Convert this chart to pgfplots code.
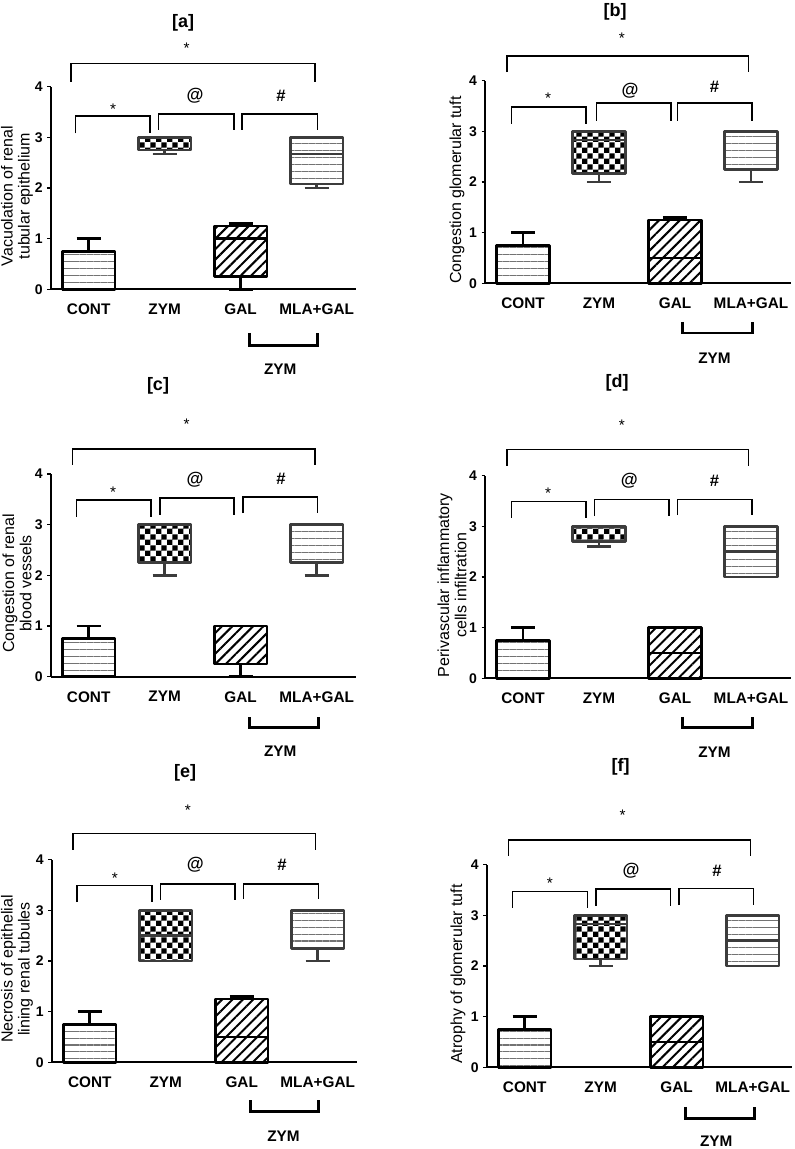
\documentclass[border=0pt]{standalone}
\usepackage{fontspec}
\setmainfont{Liberation Sans}
\usepackage{pgfplots}
\pgfplotsset{compat=1.18}
\usepgfplotslibrary{statistics}
\usetikzlibrary{patterns,patterns.meta}
\definecolor{dgray}{RGB}{60,60,60}
\definecolor{stripe}{RGB}{115,115,115}
\pgfdeclarepatternformonly{mycheck}{\pgfpointorigin}{\pgfqpoint{8.4pt}{8.4pt}}{\pgfqpoint{8.4pt}{8.4pt}}{%
  \pgfpathrectangle{\pgfpointorigin}{\pgfqpoint{4.2pt}{4.2pt}}%
  \pgfpathrectangle{\pgfqpoint{4.2pt}{4.2pt}}{\pgfqpoint{4.2pt}{4.2pt}}%
  \pgfusepath{fill}}
\pgfplotsset{
  panel/.style={
    anchor=south west,
    x=57pt, y=38pt, xmin=-0.5, xmax=3.52, ymin=0, ymax=4,
    axis lines*=left, axis line style={line width=1.3pt, black},
    clip=false,
    xtick={0,1,2,3}, xticklabels={CONT,ZYM,GAL,MLA+GAL},
    xtick style={draw=none},
    ytick={0,1,2,3,4}, ytick style={line width=1pt, black},
    tick align=outside, major tick length=2.5pt,
    xticklabel style={font=\fontsize{11.5}{12}\selectfont\bfseries, yshift=-5pt},
    yticklabel style={font=\fontsize{10.5}{12}\selectfont\bfseries},
    /pgf/number format/assume math mode=true,
    ylabel style={font=\fontsize{12}{12.8}\selectfont, align=center, anchor=center},
    boxplot/draw direction=y,
    boxplot/box extend=0.69, boxplot/whisker extend=0.32,
  },
  cont/.style={draw=black, line width=2pt, line join=round, pattern={Lines[angle=0,distance=5.2pt,line width=0.8pt]}, pattern color=stripe},
  zym/.style={draw=dgray, line width=2pt, line join=round, pattern=mycheck, pattern color=black},
  gal/.style={draw=black, line width=2pt, line join=round, pattern={Lines[angle=45,distance=5.5pt,line width=1.5pt]}, pattern color=black},
  mla/.style={draw=dgray, line width=2pt, line join=round, pattern={Lines[angle=0,distance=5.2pt,line width=0.8pt]}, pattern color=stripe},
  brk/.style={line width=1.1pt, black},
  zbrk/.style={line width=2.2pt, black},
}
\newcommand{\mkstar}{\fontsize{11.5}{12}\selectfont *}
\newcommand{\mkat}{\fontsize{13}{14}\selectfont\bfseries @}
\newcommand{\mkhash}{\fontsize{12.5}{13}\selectfont\bfseries \#}
\newcommand{\mkzym}{\fontsize{11.5}{12}\selectfont\bfseries ZYM}
\begin{document}
\begin{tikzpicture}
\useasboundingbox[fill=white] (0,0) rectangle (595.5pt,-861.75pt);
% titles
\node[font=\fontsize{13.5}{14}\selectfont\bfseries] at (137.3pt,-17.3pt) {[a]};
\node[font=\fontsize{13.5}{14}\selectfont\bfseries] at (461.3pt,-9pt) {[b]};
\node[font=\fontsize{13.5}{14}\selectfont\bfseries] at (118.5pt,-289.5pt) {[c]};
\node[font=\fontsize{13.5}{14}\selectfont\bfseries] at (462.8pt,-287.3pt) {[d]};
\node[font=\fontsize{13.5}{14}\selectfont\bfseries] at (138.8pt,-579.8pt) {[e]};
\node[font=\fontsize{13.5}{14}\selectfont\bfseries] at (465.5pt,-575.3pt) {[f]};

% ---------- panel a
\begin{axis}[panel, at={(38.0pt,-217.0pt)},
  ylabel={Vacuolation of renal\\tubular epithelium},
  ylabel style={at={(axis description cs:-0.110,0.46)}}]
\addplot[cont, boxplot prepared={draw position=0, lower whisker=0, lower quartile=0, median=0, upper quartile=0.75, upper whisker=1}] coordinates {};
\addplot[zym, boxplot prepared={draw position=1, lower whisker=2.67, lower quartile=2.75, median=3, upper quartile=3, upper whisker=3}] coordinates {};
\addplot[gal, boxplot prepared={draw position=2, lower whisker=0, lower quartile=0.25, median=1, upper quartile=1.25, upper whisker=1.3}] coordinates {};
\addplot[mla, boxplot prepared={draw position=3, lower whisker=2, lower quartile=2.08, median=2.67, upper quartile=3, upper whisker=3}] coordinates {};
\addplot[brk] coordinates {(-0.23,4.10) (-0.23,4.46) (2.98,4.46) (2.98,4.10)};
\addplot[brk] coordinates {(-0.17,3.08) (-0.17,3.42) (0.81,3.42) (0.81,3.08)};
\addplot[brk] coordinates {(0.92,3.15) (0.92,3.46) (1.91,3.46) (1.91,3.15)};
\addplot[brk] coordinates {(2.02,3.15) (2.02,3.46) (3.01,3.46) (3.01,3.15)};
\addplot[zbrk] coordinates {(2.12,-0.86) (2.12,-1.10) (3.01,-1.10) (3.01,-0.86)};
\node at (axis cs:1.29,4.76) {\mkstar};
\node at (axis cs:0.32,3.56) {\mkstar};
\node at (axis cs:1.40,3.83) {\mkat};
\node at (axis cs:2.53,3.81) {\mkhash};
\node at (axis cs:2.52,-1.57) {\mkzym};
\end{axis}

% ---------- panel b
\begin{axis}[panel, at={(363.75pt,-212.5pt)},
  ylabel={Congestion glomerular tuft},
  ylabel style={at={(axis description cs:-0.0916,0.46)}}]
\addplot[cont, boxplot prepared={draw position=0, lower whisker=0, lower quartile=0, median=0, upper quartile=0.75, upper whisker=1}] coordinates {};
\addplot[zym, boxplot prepared={draw position=1, lower whisker=2, lower quartile=2.17, median=2.83, upper quartile=3, upper whisker=3}] coordinates {};
\addplot[gal, boxplot prepared={draw position=2, lower whisker=0, lower quartile=0, median=0.5, upper quartile=1.25, upper whisker=1.3}] coordinates {};
\addplot[mla, boxplot prepared={draw position=3, lower whisker=2, lower quartile=2.25, median=3, upper quartile=3, upper whisker=3}] coordinates {};
\addplot[brk] coordinates {(-0.21,4.17) (-0.21,4.49) (2.97,4.49) (2.97,4.17)};
\addplot[brk] coordinates {(-0.15,3.15) (-0.15,3.48) (0.83,3.48) (0.83,3.15)};
\addplot[brk] coordinates {(0.97,3.21) (0.97,3.56) (1.95,3.56) (1.95,3.21)};
\addplot[brk] coordinates {(2.03,3.21) (2.03,3.56) (3.01,3.56) (3.01,3.21)};
\addplot[zbrk] coordinates {(2.10,-0.76) (2.10,-0.98) (3.02,-0.98) (3.02,-0.76)};
\node at (axis cs:1.30,4.83) {\mkstar};
\node at (axis cs:0.33,3.65) {\mkstar};
\node at (axis cs:1.41,3.80) {\mkat};
\node at (axis cs:2.52,3.88) {\mkhash};
\node at (axis cs:2.52,-1.47) {\mkzym};
\end{axis}

% ---------- panel c
\begin{axis}[panel, at={(38.0pt,-507.5pt)},
  ylabel={Congestion of renal\\blood vessels},
  ylabel style={at={(axis description cs:-0.110,0.46)}}]
\addplot[cont, boxplot prepared={draw position=0, lower whisker=0, lower quartile=0, median=0, upper quartile=0.75, upper whisker=1}] coordinates {};
\addplot[zym, boxplot prepared={draw position=1, lower whisker=2, lower quartile=2.25, median=3, upper quartile=3, upper whisker=3}] coordinates {};
\addplot[gal, boxplot prepared={draw position=2, lower whisker=0, lower quartile=0.25, median=1, upper quartile=1, upper whisker=1}] coordinates {};
\addplot[mla, boxplot prepared={draw position=3, lower whisker=2, lower quartile=2.25, median=3, upper quartile=3, upper whisker=3}] coordinates {};
\addplot[brk] coordinates {(-0.21,4.18) (-0.21,4.49) (2.98,4.49) (2.98,4.18)};
\addplot[brk] coordinates {(-0.16,3.16) (-0.16,3.49) (0.82,3.49) (0.82,3.16)};
\addplot[brk] coordinates {(0.94,3.20) (0.94,3.53) (1.91,3.53) (1.91,3.20)};
\addplot[brk] coordinates {(2.03,3.23) (2.03,3.55) (3.01,3.55) (3.01,3.23)};
\addplot[zbrk] coordinates {(2.12,-0.80) (2.12,-1.01) (3.02,-1.01) (3.02,-0.80)};
\node at (axis cs:1.29,4.98) {\mkstar};
\node at (axis cs:0.32,3.64) {\mkstar};
\node at (axis cs:1.40,3.89) {\mkat};
\node at (axis cs:2.53,3.90) {\mkhash};
\node at (axis cs:2.52,-1.48) {\mkzym};
\end{axis}

% ---------- panel d
\begin{axis}[panel, at={(363.75pt,-508.7pt)},
  ylabel={Perivascular inflammatory\\cells infiltration},
  ylabel style={at={(axis description cs:-0.108,0.46)}}]
\addplot[cont, boxplot prepared={draw position=0, lower whisker=0, lower quartile=0, median=0, upper quartile=0.75, upper whisker=1}] coordinates {};
\addplot[zym, boxplot prepared={draw position=1, lower whisker=2.6, lower quartile=2.7, median=3, upper quartile=3, upper whisker=3}] coordinates {};
\addplot[gal, boxplot prepared={draw position=2, lower whisker=0, lower quartile=0, median=0.5, upper quartile=1, upper whisker=1}] coordinates {};
\addplot[mla, boxplot prepared={draw position=3, lower whisker=2, lower quartile=2, median=2.5, upper quartile=3, upper whisker=3}] coordinates {};
\addplot[brk] coordinates {(-0.21,4.19) (-0.21,4.51) (2.97,4.51) (2.97,4.19)};
\addplot[brk] coordinates {(-0.15,3.17) (-0.15,3.49) (0.83,3.49) (0.83,3.17)};
\addplot[brk] coordinates {(0.94,3.20) (0.94,3.53) (1.92,3.53) (1.92,3.20)};
\addplot[brk] coordinates {(2.03,3.22) (2.03,3.53) (3.01,3.53) (3.01,3.22)};
\addplot[zbrk] coordinates {(2.10,-0.76) (2.10,-0.98) (3.02,-0.98) (3.02,-0.76)};
\node at (axis cs:1.30,4.99) {\mkstar};
\node at (axis cs:0.33,3.66) {\mkstar};
\node at (axis cs:1.40,3.90) {\mkat};
\node at (axis cs:2.52,3.90) {\mkhash};
\node at (axis cs:2.52,-1.45) {\mkzym};
\end{axis}

% ---------- panel e
\begin{axis}[panel, at={(38.8pt,-796.7pt)},
  ylabel={Necrosis of epithelial\\lining renal tubules},
  ylabel style={at={(axis description cs:-0.114,0.46)}}]
\addplot[cont, boxplot prepared={draw position=0, lower whisker=0, lower quartile=0, median=0, upper quartile=0.75, upper whisker=1}] coordinates {};
\addplot[zym, boxplot prepared={draw position=1, lower whisker=2, lower quartile=2, median=2.5, upper quartile=3, upper whisker=3}] coordinates {};
\addplot[gal, boxplot prepared={draw position=2, lower whisker=0, lower quartile=0, median=0.5, upper quartile=1.25, upper whisker=1.3}] coordinates {};
\addplot[mla, boxplot prepared={draw position=3, lower whisker=2, lower quartile=2.25, median=3, upper quartile=3, upper whisker=3}] coordinates {};
\addplot[brk] coordinates {(-0.22,4.19) (-0.22,4.52) (2.97,4.52) (2.97,4.19)};
\addplot[brk] coordinates {(-0.17,3.16) (-0.17,3.49) (0.82,3.49) (0.82,3.16)};
\addplot[brk] coordinates {(0.93,3.21) (0.93,3.52) (1.91,3.52) (1.91,3.21)};
\addplot[brk] coordinates {(2.02,3.23) (2.02,3.52) (3.01,3.52) (3.01,3.23)};
\addplot[zbrk] coordinates {(2.11,-0.75) (2.11,-0.97) (3.01,-0.97) (3.01,-0.75)};
\node at (axis cs:1.29,4.97) {\mkstar};
\node at (axis cs:0.33,3.63) {\mkstar};
\node at (axis cs:1.39,3.90) {\mkat};
\node at (axis cs:2.53,3.90) {\mkhash};
\node at (axis cs:2.55,-1.45) {\mkzym};
\end{axis}

% ---------- panel f
\begin{axis}[panel, at={(365.0pt,-800.5pt)},
  ylabel={Atrophy of glomerular tuft},
  ylabel style={at={(axis description cs:-0.094,0.46)}}]
\addplot[cont, boxplot prepared={draw position=0, lower whisker=0, lower quartile=0, median=0, upper quartile=0.75, upper whisker=1}] coordinates {};
\addplot[zym, boxplot prepared={draw position=1, lower whisker=2, lower quartile=2.14, median=2.83, upper quartile=3, upper whisker=3}] coordinates {};
\addplot[gal, boxplot prepared={draw position=2, lower whisker=0, lower quartile=0, median=0.5, upper quartile=1, upper whisker=1}] coordinates {};
\addplot[mla, boxplot prepared={draw position=3, lower whisker=2, lower quartile=2, median=2.5, upper quartile=3, upper whisker=3}] coordinates {};
\addplot[brk] coordinates {(-0.21,4.18) (-0.21,4.49) (2.97,4.49) (2.97,4.18)};
\addplot[brk] coordinates {(-0.16,3.15) (-0.16,3.47) (0.83,3.47) (0.83,3.15)};
\addplot[brk] coordinates {(0.94,3.19) (0.94,3.52) (1.92,3.52) (1.92,3.19)};
\addplot[brk] coordinates {(2.03,3.20) (2.03,3.53) (3.01,3.53) (3.01,3.20)};
\addplot[zbrk] coordinates {(2.12,-0.78) (2.12,-1.01) (3.02,-1.01) (3.02,-0.78)};
\node at (axis cs:1.29,4.97) {\mkstar};
\node at (axis cs:0.33,3.63) {\mkstar};
\node at (axis cs:1.40,3.88) {\mkat};
\node at (axis cs:2.53,3.88) {\mkhash};
\node at (axis cs:2.52,-1.46) {\mkzym};
\end{axis}
\end{tikzpicture}
\end{document}
